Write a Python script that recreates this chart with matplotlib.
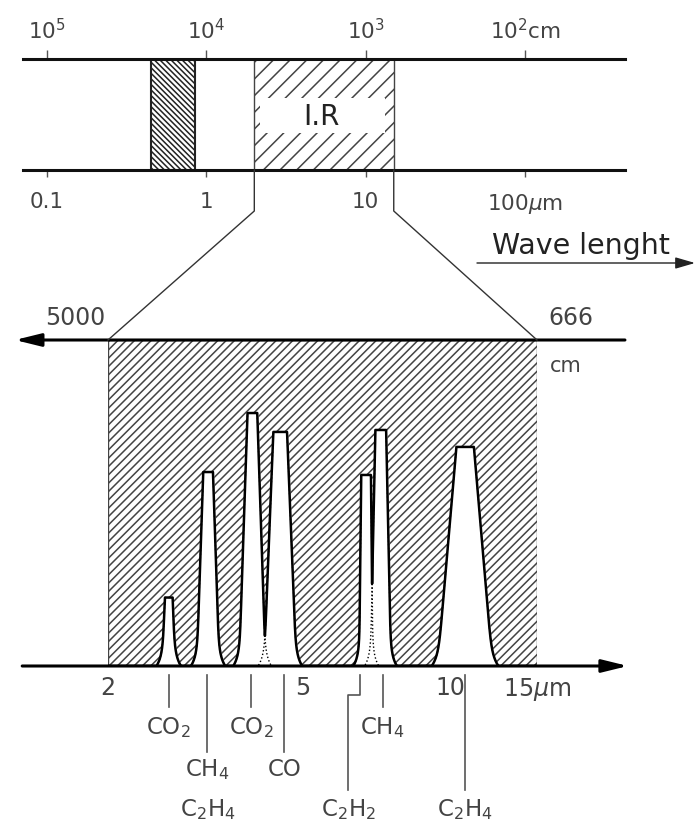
"""
Electromagnetic spectrum with the infrared band and gas absorption peaks
"""
import numpy as np
import matplotlib
matplotlib.use('Agg')
from matplotlib import pyplot as plt
from matplotlib.ticker import NullLocator

# upper scale: wavelength in um and wavenumber in cm-1
scale_um = [0.1, 1, 10, 100]
scale_um_labels = ['0.1', '1', '10', r'100$\mu$m']
scale_cm = [1e5, 1e4, 1e3, 1e2]
scale_cm_labels = [r'$10^5$', r'$10^4$', r'$10^3$', r'$10^2$cm']
visible_um = (0.45, 0.85)
ir_um = (2, 15)

# lower scale: the infrared window
ir_ticks_um = [2, 5, 10, 15]
ir_tick_labels = ['2', '5', '10', r'15$\mu$m']
ir_cm_labels = ['5000', '666']

# absorption peaks (centre in um, relative height, half widths in decades)
peak_um = [2.66, 3.20, 3.94, 4.49, 6.72, 7.20, 10.7]
peak_height = [0.21, 0.595, 0.776, 0.718, 0.586, 0.724, 0.672]
peak_top_hw = [0.008, 0.010, 0.010, 0.014, 0.010, 0.011, 0.018]
peak_base_hw = [0.013, 0.023, 0.027, 0.033, 0.014, 0.021, 0.056]

# gas names under the axis
gas_line_um = [2.66, 3.19, 3.92, 4.58, 6.54, 7.27, 10.7]
gas_text_um = [2.66, 3.19, 3.92, 4.58, 6.18, 7.27, 10.7]
gas_names = [['CO$_2$'], ['CH$_4$', 'C$_2$H$_4$'], ['CO$_2$'], ['CO'],
             ['C$_2$H$_2$'], ['CH$_4$'], ['C$_2$H$_4$']]
gas_row = [0, 1, 0, 1, 2, 0, 2]

plt.rcParams['hatch.linewidth'] = 1.1
TEXT = '#444444'

fig = plt.figure(figsize=(6.97, 8.27), dpi=100)
W, H = fig.bbox.width, fig.bbox.height


def um_to_cm(x):
    x = np.asarray(x, dtype=float)
    with np.errstate(divide='ignore'):
        return 1e4 / x


def peak_profile(lx, center, height, top_hw, base_hw, flare=0.012):
    """
    Height of one peak at log10 positions lx
    """
    u = np.linspace(height, 0, 400)
    hw = top_hw + (base_hw - top_hw) * (1 - u / height) + flare * np.exp(-u / 0.03)
    d = np.abs(lx - np.log10(center))
    return np.interp(d, hw, u)


# ---------------- upper panel ----------------
ax_top = fig.add_axes([23 / W, (H - 170) / H, 602 / W, 111 / H])
ax_top.set_xscale('log')
ax_top.set_xlim(0.0707, 424)
ax_top.set_ylim(0, 1)
ax_top.set_yticks([])
for side in ['left', 'right']:
    ax_top.spines[side].set_visible(False)
for side in ['top', 'bottom']:
    ax_top.spines[side].set_linewidth(2.2)
    ax_top.spines[side].set_color('#111111')
ax_top.set_xticks(scale_um, scale_um_labels)
ax_top.xaxis.set_minor_locator(NullLocator())
ax_top.tick_params(axis='x', direction='out', length=5, width=1, color='#555555',
                   pad=11, labelsize=15.5, labelcolor=TEXT)

sec = ax_top.secondary_xaxis('top', functions=(um_to_cm, um_to_cm))
sec.set_xticks(scale_cm, scale_cm_labels)
sec.xaxis.set_minor_locator(NullLocator())
sec.spines['top'].set_visible(False)
sec.tick_params(axis='x', direction='out', length=6.5, width=1, color='#555555',
                pad=5, labelsize=15.5, labelcolor=TEXT)

ax_top.axvspan(*visible_um, facecolor='white', edgecolor='#222222',
               hatch='\\\\\\\\\\\\', linewidth=1.5, zorder=1)
ax_top.axvspan(*ir_um, facecolor='none', edgecolor='#444444',
               hatch='//', linewidth=1, zorder=1)
ax_top.axvspan(2.18, 13.3, ymin=0.333, ymax=0.65, facecolor='white',
               edgecolor='none', zorder=2)
ax_top.text(5.3, 0.48, 'I.R', ha='center', va='center', fontsize=20,
            color='#222222', zorder=3)

# ---------------- lower panel ----------------
ax_bot = fig.add_axes([108 / W, (H - 666) / H, 429 / W, 326 / H])
ax_bot.set_xscale('log')
ax_bot.set_xlim(*ir_um)
ax_bot.set_ylim(0, 1)
ax_bot.set_yticks([])
for side in ax_bot.spines:
    ax_bot.spines[side].set_visible(False)
ax_bot.set_xticks(ir_ticks_um, ir_tick_labels)
ax_bot.xaxis.set_minor_locator(NullLocator())
ax_bot.tick_params(axis='x', length=0, pad=7, labelsize=17, labelcolor=TEXT)

ax_bot.axvspan(*ir_um, facecolor='white', edgecolor='#444444',
               hatch='////', linewidth=1, zorder=1)

lx = np.linspace(np.log10(ir_um[0]), np.log10(ir_um[1]), 5000)
profiles = [peak_profile(lx, c, h, t, b) for c, h, t, b in
            zip(peak_um, peak_height, peak_top_hw, peak_base_hw)]
envelope = np.max(profiles, axis=0)
ax_bot.fill_between(10 ** lx, 0, envelope, color='white', zorder=2)
for prof in profiles:
    ax_bot.plot(10 ** lx, prof, color='black', linewidth=1, linestyle=':', zorder=2.5)
ax_bot.plot(10 ** lx, envelope, color='black', linewidth=1.8, zorder=3)

# wavenumber line (arrow to the left) and wavelength axis (arrow to the right)
arrow = dict(arrowstyle='-|>,head_length=1.3,head_width=0.32', color='black',
             linewidth=2.2, mutation_scale=12, shrinkA=0, shrinkB=0)
ax_bot.annotate('', xy=(-0.217, 1), xytext=(1.205, 1), xycoords='axes fraction',
                arrowprops=arrow, annotation_clip=False, zorder=4)
ax_bot.annotate('', xy=(1.212, 0), xytext=(-0.2, 0), xycoords='axes fraction',
                arrowprops=arrow, annotation_clip=False, zorder=4)

xt = ax_bot.get_xaxis_transform()
ax_bot.annotate(ir_cm_labels[0], xy=(ir_um[0], 1), xycoords=xt, xytext=(-2, 11),
                textcoords='offset points', ha='right', va='baseline',
                fontsize=17, color=TEXT)
ax_bot.annotate(ir_cm_labels[1], xy=(ir_um[1], 1), xycoords=xt, xytext=(8, 11),
                textcoords='offset points', ha='left', va='baseline',
                fontsize=17, color=TEXT)
ax_bot.annotate('cm', xy=(ir_um[1], 1), xycoords=xt, xytext=(9, -23),
                textcoords='offset points', ha='left', va='baseline',
                fontsize=15, color=TEXT)

# gas labels with leader lines
px = ax_bot.bbox.height
row_y = [62, 104, 144]
line_end = [41, 86, 124]
for x0, x1, names, row in zip(gas_line_um, gas_text_um, gas_names, gas_row):
    ys = np.array([9, 29, 29, line_end[row]]) / -px
    ax_bot.plot([x0, x0, x1, x1], ys, transform=xt, color='#555555',
                linewidth=1.2, clip_on=False)
    for k, name in enumerate(names):
        ax_bot.text(x1, -row_y[row + k] / px, name, transform=xt, ha='center',
                    va='center', fontsize=16.5, color=TEXT)

# ---------------- frame: connectors and wavelength arrow ----------------
ax_frame = fig.add_axes([0, 0, 1, 1], facecolor='none')
ax_frame.set_xlim(0, W)
ax_frame.set_ylim(0, H)
ax_frame.axis('off')
for um in ir_um:
    a = ax_top.transData.transform((um, 0))
    b = ax_bot.transData.transform((um, 1))
    ax_frame.plot([a[0], a[0], b[0]], [a[1], a[1] - 41, b[1]],
                  color='#333333', linewidth=1)

ax_frame.annotate('', xy=(695, H - 263), xytext=(477, H - 263),
                  arrowprops=dict(arrowstyle='-|>,head_length=1.2,head_width=0.35',
                                  color='#222222', linewidth=1,
                                  mutation_scale=10, shrinkA=0, shrinkB=0))
ax_frame.text(492, H - 254, 'Wave lenght', ha='left', va='baseline',
              fontsize=20.5, color='#222222')

fig.savefig('out.png', dpi=100)
